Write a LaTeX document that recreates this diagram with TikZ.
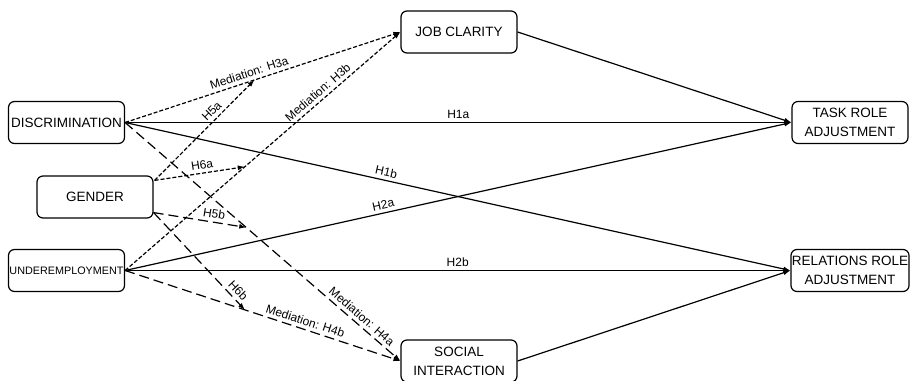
\documentclass[tikz,border=0pt]{standalone}
\usepackage{fontspec}
\setmainfont{Liberation Sans}
\usetikzlibrary{arrows.meta}
\tikzset{
  construct/.style={draw, rounded corners=6pt, line width=1.2pt, align=center,
    inner sep=1pt, minimum width=116pt, minimum height=42pt,
    font=\fontsize{13.5}{19}\selectfont},
  direct/.style={line width=1.2pt, -{Latex[length=7pt,width=5pt]}},
  mediate/.style={line width=1.2pt, dash pattern=on 4pt off 2pt, -{Latex[length=7pt,width=5pt]}},
  mediatelong/.style={line width=1.2pt, dash pattern=on 10pt off 5pt, -{Latex[length=7pt,width=5pt]}},
  hyp/.style={font=\fontsize{12}{14}\selectfont, inner sep=3.5pt}
}

\begin{document}
\begin{tikzpicture}[x=1pt, y=1pt]
\useasboundingbox (0,0) rectangle (912,380);
% constructs
\node[construct] (disc) at (66.5,257.5) {DISCRIMINATION};
\node[construct] (gender) at (95,183) {GENDER};
\node[construct, font=\fontsize{10.8}{12}\selectfont] (under) at (66.5,109.5) {UNDEREMPLOYMENT};
\node[construct] (job) at (459,348) {JOB CLARITY};
\node[construct] (social) at (459,19) {SOCIAL\\INTERACTION};
\node[construct] (task) at (850,257.5) {TASK ROLE\\ADJUSTMENT};
\node[construct] (rel) at (850,109.5) {RELATIONS ROLE\\ADJUSTMENT};

% direct effects
\draw[direct] (disc.east) -- node[hyp, above, pos=0.5] {H1a} (task.west);
\draw[direct] (disc.east) -- node[hyp, above, sloped, pos=0.39] {H1b} (rel.west);
\draw[direct] (under.east) -- node[hyp, above, sloped, pos=0.39] {H2a} (task.west);
\draw[direct] (under.east) -- node[hyp, above, pos=0.5] {H2b} (rel.west);
\draw[direct] (job.east) -- (task.west);
\draw[direct] (social.east) -- (rel.west);

% mediation
\draw[mediate] (disc.east) -- node[hyp, above, sloped, pos=0.46] {Mediation: H3a}
  coordinate[pos=0.47] (m3a) (job.west);
\draw[mediate] (under.east) -- node[hyp, above, sloped, pos=0.72] {Mediation: H3b}
  coordinate[pos=0.435] (m3b) (job.west);
\draw[mediatelong] (disc.east) -- node[hyp, above, sloped, pos=0.84] {Mediation: H4a}
  coordinate[pos=0.44] (m4a) (social.west);
\draw[mediatelong] (under.east) -- node[hyp, above, sloped, pos=0.645] {Mediation: H4b}
  coordinate[pos=0.435] (m4b) (social.west);

% moderation by gender
\coordinate (gup) at ([xshift=1pt, yshift=-5pt]gender.north east);
\coordinate (gdown) at ([yshift=6pt]gender.south east);
\draw[mediate] (gup) -- node[hyp, above, sloped, pos=0.63] {H5a} (m3a);
\draw[mediate] (gup) -- node[hyp, above, sloped, pos=0.54] {H6a} (m3b);
\draw[mediatelong] (gdown) -- node[hyp, above, sloped, pos=0.64] {H5b} (m4a);
\draw[mediatelong] (gdown) -- node[hyp, above, sloped, pos=0.86] {H6b} (m4b);
\end{tikzpicture}
\end{document}
